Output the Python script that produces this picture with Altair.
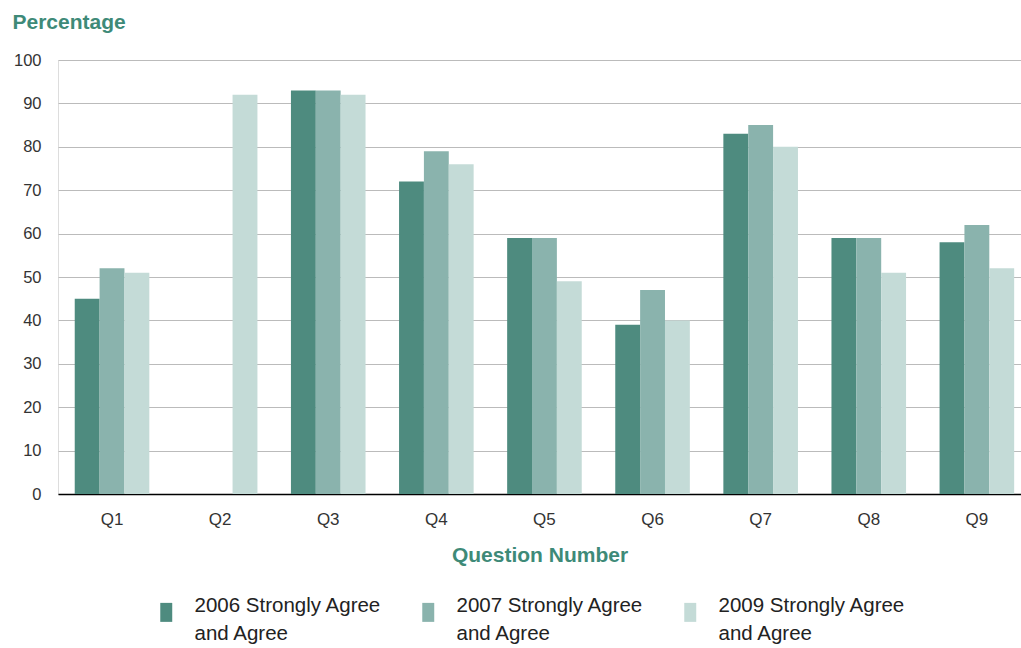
import altair as alt
import pandas as pd

questions = ["Q1", "Q2", "Q3", "Q4", "Q5", "Q6", "Q7", "Q8", "Q9"]
v2006 = [45, None, 93, 72, 59, 39, 83, 59, 58]
v2007 = [52, None, 93, 79, 59, 47, 85, 59, 62]
v2009 = [51, 92, 92, 76, 49, 40, 80, 51, 52]
series = ["2006 Strongly Agree|and Agree", "2007 Strongly Agree|and Agree", "2009 Strongly Agree|and Agree"]
colors = ["#4E8B7F", "#8AB3AD", "#C4DBD7"]

rows = []
for s, vals in zip(series, [v2006, v2007, v2009]):
    for q, v in zip(questions, vals):
        if v is not None:
            rows.append({"question": q, "series": s, "value": v})
df = pd.DataFrame(rows)

green = "#3E8A78"
font = "Liberation Sans"

chart = alt.Chart(df).mark_bar().encode(
    x=alt.X("question:N", sort=questions,
            scale=alt.Scale(paddingInner=0.31, paddingOuter=0.109, align=0.71),
            axis=alt.Axis(title="Question Number", labelAngle=0, ticks=False,
                          labelPadding=17, labelFontSize=17, labelColor="#333333",
                          labelFont=font, titleFont=font, titleFontSize=21,
                          titleFontWeight="bold", titleColor=green, titlePadding=17,
                          domainColor="#000000", domainWidth=1.5)),
    xOffset=alt.XOffset("series:N", sort=series),
    y=alt.Y("value:Q", scale=alt.Scale(domain=[0, 100]),
            axis=alt.Axis(title="Percentage", values=list(range(0, 101, 10)),
                          domain=False, ticks=False, labelPadding=17,
                          labelFontSize=16.5, labelColor="#333333", labelFont=font,
                          gridColor="#BBBBBB", gridWidth=1.2,
                          titleAngle=0, titleAlign="left", titleBaseline="middle",
                          titleX=-46, titleY=-38, titleFont=font, titleFontSize=21,
                          titleFontWeight="bold", titleColor=green)),
    color=alt.Color("series:N", sort=series,
                    scale=alt.Scale(domain=series, range=colors),
                    legend=alt.Legend(title=None, orient="none", legendX=98, legendY=542,
                                      direction="horizontal", columns=3,
                                      symbolType="M-0.63,-1H0.63V1H-0.63Z", symbolSize=361,
                                      symbolStrokeWidth=0, symbolOpacity=1,
                                      labelFontSize=20.5, labelFont=font, labelColor="#222222",
                                      labelOffset=18, labelLimit=300, columnPadding=36,
                                      labelBaseline="alphabetic",
                                      labelExpr="split(datum.label, '|')")),
).properties(
    width=963, height=434,
    autosize=alt.AutoSizeParams(type="none"),
    padding={"left": 58, "top": 60, "right": 0, "bottom": 154},
).configure_view(stroke=None).configure(style={"guide-label": {"lineHeight": 28}})

chart.save("out.html", embed_options={"renderer": "svg", "actions": False})
